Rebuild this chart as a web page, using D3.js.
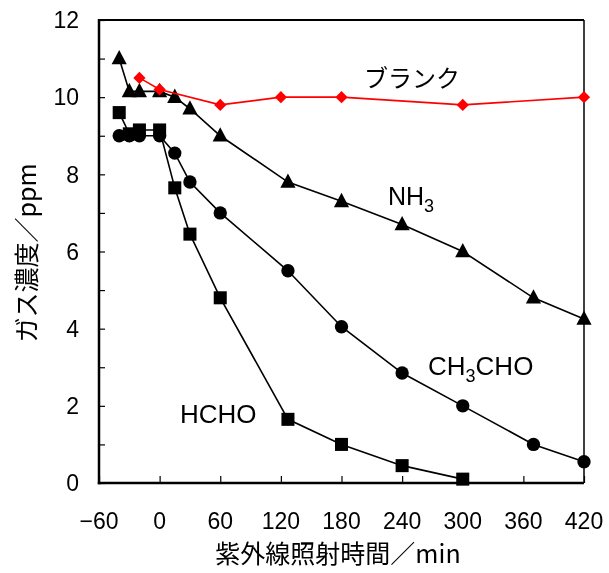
<!DOCTYPE html>
<html lang="ja">
<head>
<meta charset="utf-8">
<title>ガス濃度の変化</title>
<script src="https://d3js.org/d3.v7.min.js"></script>
<style>
    body { margin: 0; background: #fff; }
    svg { will-change: transform; }
    text { font-family: 'Liberation Sans', Arial, sans-serif; fill: #000; }
    .jp { font-family: 'Noto Sans CJK JP', sans-serif; }
</style>
</head>
<body>
<svg id="chart" width="609" height="573"></svg>
<script>
    // data (time in min, concentration in ppm)
    const blankT = [-20, 0, 60, 120, 180, 300, 420];
    const blankV = [10.5, 10.2, 9.8, 10.0, 10.0, 9.8, 10.0];

    const nh3T = [-40, -30, -20, 0, 15, 30, 60, 127, 180, 240, 300, 370, 420];
    const nh3V = [11.0, 10.15, 10.15, 10.15, 10.0, 9.7, 9.0, 7.8, 7.3, 6.7, 6.0, 4.8, 4.25];

    const acetT = [-40, -30, -20, 0, 15, 30, 60, 127, 180, 240, 300, 370, 420];
    const acetV = [9.0, 9.0, 9.0, 9.0, 8.55, 7.8, 7.0, 5.5, 4.05, 2.85, 2.0, 1.0, 0.55];

    const hchoT = [-40, -30, -20, 0, 15, 30, 60, 127, 180, 240, 300];
    const hchoV = [9.6, 9.05, 9.15, 9.15, 7.65, 6.45, 4.8, 1.65, 1.0, 0.45, 0.1];

    const xTicks = [-60, 0, 60, 120, 180, 240, 300, 360, 420];
    const yTicks = [0, 2, 4, 6, 8, 10, 12];

    const LEFT = 99, RIGHT = 584, TOP = 20, BOTTOM = 483;

    const x = d3.scaleLinear().domain([-60, 420]).range([LEFT, RIGHT]);
    const y = d3.scaleLinear().domain([0, 12]).range([BOTTOM, TOP]);

    const svg = d3.select('#chart');

    const zip = (t, v) => t.map((d, i) => ({t: d, v: v[i]}));
    const line = d3.line().x(d => x(d.t)).y(d => y(d.v));

    // frame
    svg.append('line').attr('x1', LEFT).attr('x2', RIGHT).attr('y1', TOP).attr('y2', TOP)
        .attr('stroke', '#000').attr('stroke-width', 2);
    svg.append('line').attr('x1', RIGHT).attr('x2', RIGHT).attr('y1', TOP).attr('y2', BOTTOM)
        .attr('stroke', '#000').attr('stroke-width', 1.5);

    // y axis, ticks inside, minor every 1
    const yAxis = svg.append('g').attr('transform', `translate(${LEFT},0)`)
        .call(d3.axisRight(y).tickValues(d3.range(0, 13, 1)).tickSize(6).tickFormat(''));
    yAxis.select('.domain').remove();
    yAxis.selectAll('line').attr('stroke-width', 1.2);
    yAxis.selectAll('text').remove();
    svg.append('g').selectAll('text').data(yTicks).join('text')
        .attr('x', LEFT - 20).attr('y', d => y(d)).attr('dy', '0.36em')
        .attr('text-anchor', 'end').style('font-size', '23px')
        .text(d => d);

    // x axis, ticks inside
    const xAxis = svg.append('g').attr('transform', `translate(0,${BOTTOM})`)
        .call(d3.axisTop(x).tickValues(xTicks).tickSize(7).tickFormat(''));
    xAxis.select('.domain').remove();
    xAxis.selectAll('line').attr('stroke-width', 1.2);
    svg.append('g').selectAll('text').data(xTicks).join('text')
        .attr('x', d => x(d)).attr('y', 529)
        .attr('text-anchor', 'middle').style('font-size', '23px')
        .text(d => d < 0 ? '\u2212' + Math.abs(d) : d);

    svg.append('line').attr('x1', LEFT).attr('x2', LEFT).attr('y1', TOP - 1).attr('y2', BOTTOM + 1.2)
        .attr('stroke', '#000').attr('stroke-width', 2.5);
    svg.append('line').attr('x1', LEFT - 1.2).attr('x2', RIGHT).attr('y1', BOTTOM).attr('y2', BOTTOM)
        .attr('stroke', '#000').attr('stroke-width', 2.5);

    // series
    function drawSeries(data, color, width, symbol, size) {
        svg.append('path').datum(data)
            .attr('d', line).attr('fill', 'none')
            .attr('stroke', color).attr('stroke-width', width);
        svg.append('g').selectAll('path').data(data).join('path')
            .attr('transform', d => `translate(${x(d.t)},${y(d.v)})`)
            .attr('d', d3.symbol().type(symbol).size(size))
            .attr('fill', color);
    }

    const diamond = {
        draw(ctx, size) {
            const r = Math.sqrt(size) / 2;
            ctx.moveTo(0, -r); ctx.lineTo(r, 0); ctx.lineTo(0, r); ctx.lineTo(-r, 0); ctx.closePath();
        }
    };
    const triangle = {
        draw(ctx, size) {
            const h = Math.sqrt(size);
            ctx.moveTo(0, -h * 0.62); ctx.lineTo(h * 0.55, h * 0.42); ctx.lineTo(-h * 0.55, h * 0.42); ctx.closePath();
        }
    };

    drawSeries(zip(hchoT, hchoV), '#000', 1.6, d3.symbolSquare, 170);
    drawSeries(zip(acetT, acetV), '#000', 1.6, d3.symbolCircle, 140);
    drawSeries(zip(nh3T, nh3V), '#000', 1.6, triangle, 190);
    drawSeries(zip(blankT, blankV), '#ff0000', 1.6, diamond, 150);

    // labels
    svg.append('text').attr('class', 'jp').attr('x', 364).attr('y', 87)
        .style('font-size', '24px').text('ブランク');
    const nh3 = svg.append('text').attr('x', 388).attr('y', 205).style('font-size', '25px');
    nh3.append('tspan').text('NH');
    nh3.append('tspan').attr('dy', 7).style('font-size', '18px').text('3');
    const ch = svg.append('text').attr('x', 428).attr('y', 375).style('font-size', '26px');
    ch.append('tspan').text('CH');
    ch.append('tspan').attr('dy', 7).style('font-size', '18px').text('3');
    ch.append('tspan').attr('dy', -7).text('CHO');
    svg.append('text').attr('x', 180).attr('y', 423).style('font-size', '26px').text('HCHO');

    // axis titles
    svg.append('text').attr('class', 'jp').attr('x', 338).attr('y', 563)
        .attr('text-anchor', 'middle').style('font-size', '25px').text('紫外線照射時間／min');
    svg.append('text').attr('class', 'jp')
        .attr('transform', 'translate(36,253) rotate(-90)')
        .attr('text-anchor', 'middle').style('font-size', '25px').text('ガス濃度／ppm');
</script>
</body>
</html>
